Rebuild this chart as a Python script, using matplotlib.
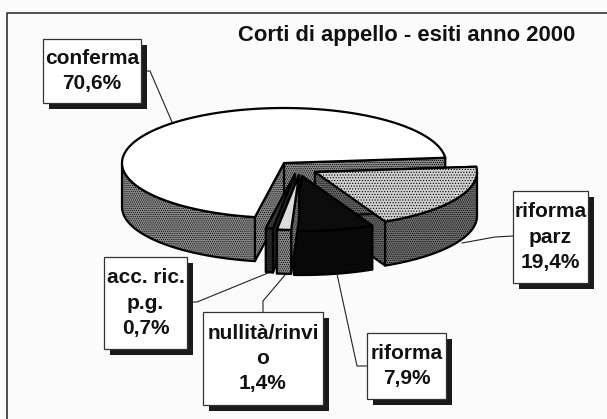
import numpy as np
import matplotlib
matplotlib.use("Agg")
import matplotlib.pyplot as plt
from matplotlib.patches import Polygon, Rectangle

categories = ["conferma", "acc. ric.\np.g.", "nullità/rinvi\no", "riforma", "riforma\nparz"]
shares = [70.6, 0.7, 1.4, 7.9, 19.4]
share_labels = ["70,6%", "0,7%", "1,4%", "7,9%", "19,4%"]
title = "Corti di appello - esiti anno 2000"

# style of each slice, same order as categories
apex = [(284, 163), (295, 174), (299, 175), (302, 176), (315, 172)]
top_colors = ["#ffffff", "#333333", "#dcdcdc", "#0c0c0c", "#d0d0d0"]
top_hatches = [None, None, None, None, "......"]
wall_colors = ["#8a8a8a", "#2e2e2e", "#8a8a8a", "#0c0c0c", "#707070"]
cut_colors = ["#8a8a8a", "#2a2a2a", "#7a7a7a", "#0c0c0c", "#686868"]
boxes = [(43, 39, 98, 64), (104, 257, 83, 92), (203, 312, 120, 93), (367, 333, 79, 66), (513, 191, 75, 92)]
leaders = [
    [(141, 71), (150, 71), (172, 122)],
    [(187, 302), (197, 302), (268, 273)],
    [(263, 312), (263, 301), (285, 275)],
    [(367, 366), (357, 366), (337, 274)],
    [(513, 236), (495, 237), (462, 243)],
]
draw_order = [0, 4, 3, 1, 2]

RX, RY, DEPTH = 162, 55, 44
START_ANGLE = 5.5


def rim(center, angles):
    a = np.radians(angles)
    return center[0] + RX * np.cos(a), center[1] - RY * np.sin(a)


def draw_slice(ax, center, a0, a1, top, top_hatch, wall, cut):
    outline = dict(edgecolor="black", linewidth=1.6, joinstyle="round")
    cx, cy = center

    # cut faces, the back one first
    for a in (a0, a1):
        x, y = rim(center, np.array([a]))
        pts = [(cx, cy), (x[0], y[0]), (x[0], y[0] + DEPTH), (cx, cy + DEPTH)]
        ax.add_patch(Polygon(pts, facecolor=cut, hatch="........", **outline))

    # outer wall, only the part that faces the viewer
    angles = np.linspace(a0, a1, 300)
    front = angles[np.sin(np.radians(angles)) < 0]
    if len(front) > 1:
        x, y = rim(center, front)
        pts = list(zip(x, y)) + list(zip(x[::-1], y[::-1] + DEPTH))
        ax.add_patch(Polygon(pts, facecolor=wall, hatch="........", **outline))

    # top face
    x, y = rim(center, angles)
    pts = [(cx, cy)] + list(zip(x, y))
    ax.add_patch(Polygon(pts, facecolor=top, hatch=top_hatch, **outline))


def draw_label(ax, box, text):
    x, y, w, h = box
    ax.add_patch(Rectangle((x + 6, y + 6), w, h, facecolor="#1a1a1a", edgecolor="none", zorder=5))
    ax.add_patch(Rectangle((x, y), w, h, facecolor="white", edgecolor="#333333", linewidth=0.9, zorder=6))
    ax.text(x + w / 2, y + h / 2, text, ha="center", va="center", fontsize=15,
            fontweight="bold", linespacing=1.42, color="#111111", zorder=7)


def main():
    plt.rcParams["font.family"] = ["Liberation Sans", "DejaVu Sans"]
    plt.rcParams["hatch.linewidth"] = 0.5
    fig = plt.figure(figsize=(6.07, 4.19), dpi=100, facecolor="#fbfbfb")
    ax = fig.add_axes([0, 0, 1, 1])
    ax.set_xlim(0, 607)
    ax.set_ylim(419, 0)
    ax.axis("off")

    # chart frame, the scan cuts it off at the bottom
    ax.plot([607, 7, 7], [13, 13, 419], color="#222222", linewidth=1.1)

    ax.text(407, 36, title, ha="center", va="center", fontsize=15.8, fontweight="bold", color="#111111")

    edges = START_ANGLE + np.cumsum([0] + shares) * 3.6
    for i in draw_order:
        draw_slice(ax, apex[i], edges[i], edges[i + 1], top_colors[i], top_hatches[i], wall_colors[i], cut_colors[i])

    for pts in leaders:
        xs, ys = zip(*pts)
        ax.plot(xs, ys, color="#222222", linewidth=0.8, zorder=4)

    for box, name, share in zip(boxes, categories, share_labels):
        draw_label(ax, box, name + "\n" + share)

    fig.savefig("out.png", dpi=100, facecolor=fig.get_facecolor())
    plt.close(fig)


if __name__ == "__main__":
    main()
